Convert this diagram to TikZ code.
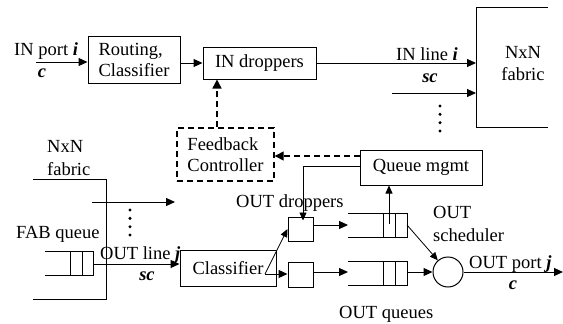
\documentclass[tikz,border=0pt]{standalone}
\usepackage{fontspec}
\setmainfont{Liberation Serif}
\usetikzlibrary{arrows.meta}
\newcommand{\bi}[1]{\textbf{\textit{#1}}}
\begin{document}
\begin{tikzpicture}[x=1pt,y=-1pt,
  every node/.style={font=\fontsize{18.5}{21}\selectfont, inner sep=0pt},
  blk/.style={draw, line width=1pt},
  fbk/.style={draw, line width=1.4pt, dash pattern=on 6pt off 4pt},
  lbl/.style={anchor=base west},
  lblc/.style={anchor=base},
  wire/.style={line width=1pt},
  arr/.style={line width=1pt, -{Triangle[length=9pt,width=8pt]}},
  thinarr/.style={line width=0.8pt, -{Triangle[length=8pt,width=7pt]}},
  darr/.style={line width=1.4pt, dash pattern=on 6pt off 4pt, -{Triangle[length=9pt,width=9pt]}},
  dot/.style={fill=black},
]
\useasboundingbox (0,0) rectangle (563,324);

% ---------- input side ----------
\node[blk, minimum width=92pt, minimum height=47pt, align=left] (route) at (134,59.5) {Routing,\\Classifier};
\node[blk, minimum width=113pt, minimum height=32pt] (indrop) at (259.5,63) {IN droppers};

% NxN fabric (ingress), open on the right
\draw[wire] (548,7) -- (476,7) -- (476,127) -- (548,127);
\coordinate (fabin1) at (476,63);
\coordinate (fabin2) at (476,93);
\node[lblc] (fabA1) at (523,58) {NxN};
\node[lblc] (fabA2) at (523,80) {fabric};

\coordinate (inport) at (36,62);
\node[lbl] (inportlbl) at (14,55) {IN port \bi{i}};
\node[lblc] (inportc) at (42,77) {\bi{c}};
\draw[arr] (inport) -- (route.west |- inport);
\draw[arr] (route.east |- indrop.west) -- (indrop.west);
\draw[arr] (indrop.east) -- (fabin1);
\node[lblc] (inlinelbl) at (427,60) {IN line \bi{i}};
\node[lblc] (inlinesc) at (430,82) {\bi{sc}};
\coordinate (in2) at (392,93);
\draw[arr] (in2) -- (fabin2);
\foreach \yy in {106,114.3,122.7,131} \fill[dot] (440,\yy) circle (1.7pt);

% ---------- feedback ----------
\node[fbk, minimum width=97pt, minimum height=53pt, align=left] (fbc) at (225.5,154.5) {Feedback\\Controller};
\node[blk, minimum width=122pt, minimum height=35pt] (qm) at (421,167.5) {Queue mgmt};
\coordinate (fbup) at (217,0);
\draw[darr] (fbc.north -| fbup) -- (indrop.south -| fbup);
\coordinate (qmd) at (0,156);
\draw[darr] (qm.west |- qmd) -- (fbc.east |- qmd);

% ---------- output side ----------
% NxN fabric (egress), open on the left
\draw[wire] (33,179) -- (106,179) -- (106,299) -- (33,299);
\node[lbl] (fabB1) at (47,152) {NxN};
\node[lbl] (fabB2) at (47,175) {fabric};
\coordinate (fabout) at (92,202);
\coordinate (fabto) at (175,202);
\draw[arr] (fabout) -- (fabto);
\foreach \yy in {210,218.3,226.7,235} \fill[dot] (130,\yy) circle (1.7pt);

% FAB queue
\node[lbl] (fabq) at (16,238) {FAB queue};
\draw[wire] (45,251) -- (93,251) -- (93,275) -- (45,275);
\draw[wire] (70,251) -- (70,275) (82,251) -- (82,275);
\coordinate (fq) at (93,264);

\node[blk, minimum width=96pt, minimum height=36pt] (cls) at (228,268) {Classifier};
\draw[arr] (fq) -- (cls.west |- fq);
\node[lbl] (outline) at (100,259) {OUT line \bi{j}};
\node[lblc] (outsc) at (147,280) {\bi{sc}};

% OUT droppers
\node[lbl] (droplbl) at (236,207) {OUT droppers};
\node[blk, minimum width=25pt, minimum height=24pt] (dropA) at (300.5,229) {};
\node[blk, minimum width=25pt, minimum height=25pt] (dropB) at (300.5,274.5) {};
\coordinate (fork) at (265,274);
\draw[thinarr] (fork) -- (dropA.west);
\draw[arr] (fork) -- (dropB.west |- fork);
\coordinate (qmc) at (303,166);
\draw[thinarr] (qm.west |- qmc) -| ([yshift=-4pt]dropA.north -| qmc);

% OUT queues
\draw[wire] (348,213) -- (407,213) -- (407,237) -- (348,237);
\draw[wire] (383,213) -- (383,237) (395,213) -- (395,237);
\draw[wire] (348,261) -- (407,261) -- (407,285) -- (348,285);
\draw[wire] (383,261) -- (383,285) (395,261) -- (395,285);
\coordinate (qAin) at (348,225);
\coordinate (qAout) at (407,225);
\coordinate (qBin) at (348,272);
\coordinate (qBout) at (407,272);
\draw[arr] (dropA.east |- qAin) -- (qAin);
\draw[arr] (dropB.east |- qBin) -- (qBin);
\coordinate (qtap) at (389,224);
\draw[thinarr] (qtap) -- (qm.south -| qtap);
\node[lbl] (outqlbl) at (339,318) {OUT queues};

% OUT scheduler
\node[draw, circle, line width=1pt, minimum size=30pt] (sched) at (448,272) {};
\node[lbl] (sch1) at (433,218) {OUT};
\node[lbl] (sch2) at (433,241) {scheduler};
\draw[thinarr] (qAout) -- (sched);
\draw[arr] (qBout) -- (sched.west |- qBout);
\coordinate (outport) at (563,272);
\draw[arr] (sched.east) -- (outport);
\node[lbl] (outportlbl) at (469,268) {OUT port \bi{j}};
\node[lblc] (outportc) at (513,289) {\bi{c}};
\end{tikzpicture}
\end{document}
